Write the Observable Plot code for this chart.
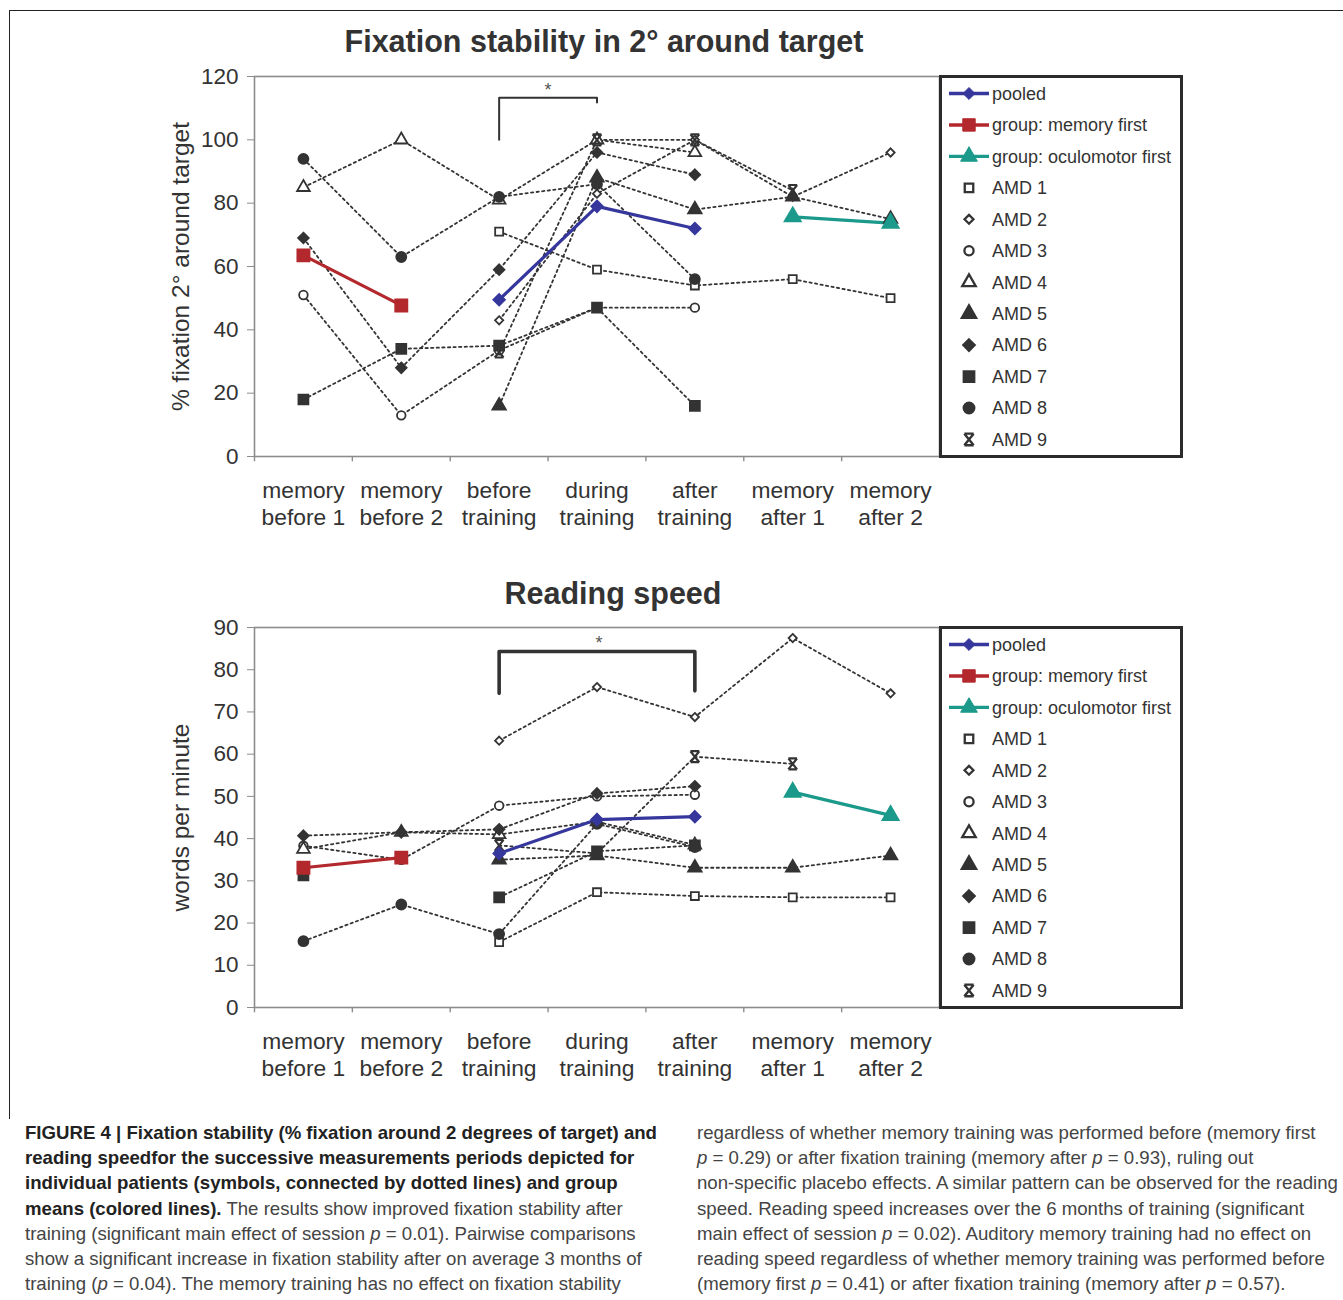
<!DOCTYPE html>
<html><head><meta charset="utf-8">
<script src="https://cdn.jsdelivr.net/npm/d3@7"></script>
<script src="https://cdn.jsdelivr.net/npm/@observablehq/plot@0.6"></script>
<style>
html,body{margin:0;padding:0;background:#fff;}
#page{position:relative;width:1343px;height:1300px;overflow:hidden;font-family:"Liberation Sans",Arial,sans-serif;background:#fff;}
.title{position:absolute;font-weight:bold;font-size:30.5px;line-height:34px;color:#333;white-space:nowrap;transform:translateX(-50%);}
.chart{position:absolute;left:0;}
.legend{position:absolute;box-sizing:border-box;border:3px solid #2b2b2b;background:#fff;}
.caption{position:absolute;font-family:"Liberation Sans",Arial,sans-serif;font-size:17.7px;line-height:25.2px;color:#444;white-space:nowrap;transform-origin:0 0;}
.caption div{white-space:nowrap;}
.caption span.ln{display:inline-block;}
.caption b{color:#222;}
.frameline{position:absolute;left:9px;top:10px;width:1340px;height:1108px;border-top:1.5px solid #222;border-left:1.5px solid #222;}
</style></head><body><div id="page">
<div class="frameline"></div>
<div class="title" id="t1" style="left:604px;top:24px;">Fixation stability in 2° around target</div>
<div class="title" id="t2" style="left:613px;top:576px;">Reading speed</div>
<div class="chart" id="c1" style="top:56px;"></div>
<div class="chart" id="c2" style="top:607px;"></div>
<div class="legend" id="l1" style="left:939px;top:75px;width:244px;height:383px;"></div>
<div class="legend" id="l2" style="left:939px;top:626px;width:244px;height:383px;"></div>
<div class="caption" id="capL" style="left:25px;top:1121px;">
<div><span class="ln"><b>FIGURE 4 | Fixation stability (% fixation around 2 degrees of target) and</b></span></div>
<div><span class="ln"><b>reading speedfor the successive measurements periods depicted for</b></span></div>
<div><span class="ln"><b>individual patients (symbols, connected by dotted lines) and group</b></span></div>
<div><span class="ln"><b>means (colored lines).</b> The results show improved fixation stability after</span></div>
<div><span class="ln">training (significant main effect of session <i>p</i> = 0.01). Pairwise comparisons</span></div>
<div><span class="ln">show a significant increase in fixation stability after on average 3 months of</span></div>
<div><span class="ln">training (<i>p</i> = 0.04). The memory training has no effect on fixation stability</span></div>
</div>
<div class="caption" id="capR" style="left:697px;top:1121px;">
<div><span class="ln">regardless of whether memory training was performed before (memory first</span></div>
<div><span class="ln"><i>p</i> = 0.29) or after fixation training (memory after <i>p</i> = 0.93), ruling out</span></div>
<div><span class="ln">non-specific placebo effects. A similar pattern can be observed for the reading</span></div>
<div><span class="ln">speed. Reading speed increases over the 6 months of training (significant</span></div>
<div><span class="ln">main effect of session <i>p</i> = 0.02). Auditory memory training had no effect on</span></div>
<div><span class="ln">reading speed regardless of whether memory training was performed before</span></div>
<div><span class="ln">(memory first <i>p</i> = 0.41) or after fixation training (memory after <i>p</i> = 0.57).</span></div>
</div>
</div>
<script>
// ---------- DATA ----------
const sessions = ["memory before 1","memory before 2","before training","during training","after training","memory after 1","memory after 2"];
const sessionLabels = ["memory\nbefore 1","memory\nbefore 2","before\ntraining","during\ntraining","after\ntraining","memory\nafter 1","memory\nafter 2"];
const patients = ["AMD 1","AMD 2","AMD 3","AMD 4","AMD 5","AMD 6","AMD 7","AMD 8","AMD 9"];
const groupNames = ["pooled","group: memory first","group: oculomotor first"];

// Fixation stability (% fixation in 2° around target), one value per session (null = not measured)
const fixAMD1 = [null, null, 71, 59, 54, 56, 50];
const fixAMD2 = [null, null, 43, 83, 100, 82, 96];
const fixAMD3 = [51, 13, 33.5, 47, 47, null, null];
const fixAMD4 = [85, 100, 81, 100, 96, null, null];
const fixAMD5 = [null, null, 16, 88, 78, 82, 75];
const fixAMD6 = [69, 28, 59, 96, 89, null, null];
const fixAMD7 = [18, 34, 35, 47, 16, null, null];
const fixAMD8 = [94, 63, 82, 86, 56, null, null];
const fixAMD9 = [null, null, 33, 100, 100, 84, null];
const fixPooled = [null, null, 49.5, 79, 72, null, null];
const fixMemoryFirst = [63.5, 47.7, null, null, null, null, null];
const fixOculomotorFirst = [null, null, null, null, null, 75.7, 73.7];
const fixTicks = [0, 20, 40, 60, 80, 100, 120];
const fixBracket = [["before training", 100], ["before training", 113.3], ["during training", 113.3], ["during training", 111.8]];
const fixStar = ["before training", 115.6];

// Reading speed (words per minute)
const readAMD1 = [null, null, 15.5, 27.3, 26.4, 26.1, 26.1];
const readAMD2 = [null, null, 63.2, 75.9, 68.8, 87.5, 74.4];
const readAMD3 = [38.3, 35, 47.8, 50, 50.4, null, null];
const readAMD4 = [37.5, 41.5, 41, 44, 38.5, null, null];
const readAMD5 = [null, null, 35, 36, 33.1, 33.1, 36];
const readAMD6 = [40.7, 41.5, 42.2, 50.7, 52.4, null, null];
const readAMD7 = [31.3, null, 26.1, 37, 38.4, null, null];
const readAMD8 = [15.7, 24.4, 17.4, 43.5, 38, null, null];
const readAMD9 = [null, null, 38.4, 36.5, 59.4, 57.7, null];
const readPooled = [null, null, 36.5, 44.5, 45.2, null, null];
const readMemoryFirst = [33.1, 35.5, null, null, null, null, null];
const readOculomotorFirst = [null, null, null, null, null, 51, 45.5];
const readTicks = [0, 10, 20, 30, 40, 50, 60, 70, 80, 90];
const readBracket = [["before training", 74.4], ["before training", 84.3], ["after training", 84.3], ["after training", 75]];
const readStar = ["during training", 86.2];

// ---------- STYLES ----------
// "X with caps" marker used for AMD 9
const symbolCappedX = {
  draw(ctx, size) {
    const r = Math.sqrt(size) * 0.62;
    const c = r * 0.8;
    ctx.moveTo(-c, -r); ctx.lineTo(c, r);
    ctx.moveTo(c, -r); ctx.lineTo(-c, r);
    ctx.moveTo(-c, -r); ctx.lineTo(c, -r);
    ctx.moveTo(-c, r); ctx.lineTo(c, r);
  }
};
const patientSymbol = ["square","diamond2","circle","triangle","triangle","diamond2","square","circle", symbolCappedX];
const patientFilled = [false,false,false,false,true,true,true,true,false];
const patientR = [4.5, 3.7, 4.3, 4.7, 5.0, 4.8, 5.6, 5.0, 5.0];
const groupColor = ["#36379c", "#b3282d", "#1b9a8b"];
const groupSymbol = ["diamond2", "square", "triangle"];
const groupR = [5.4, 7.0, 6.2];
const ink = "#333";

const W = 1343, ML = 254, MR = 404, MT = 20, MB = 90, H = 490;
const step = (W - ML - MR) / sessions.length;

function toLong(arrays, names) {
  const out = [];
  arrays.forEach((arr, i) => arr.forEach((v, j) => out.push({name: names[i], session: sessions[j], value: v})));
  return out;
}
function defined(arr) {
  return arr.map((v, j) => ({session: sessions[j], value: v})).filter(d => d.value != null);
}
const isStrokeSymbol = s => typeof s === "object";

function makeChart(cfg) {
  const long = toLong(cfg.patients, patients);
  const groups = [cfg.pooled, cfg.memFirst, cfg.ocuFirst];
  const yMax = cfg.ticks[cfg.ticks.length - 1];
  const marks = [
    Plot.frame({stroke: "#8c8c8c", strokeWidth: 1.6}),
    Plot.ruleX(sessions, {x: d => d, dx: -step / 2, y1: 0, y2: -yMax * 0.014, stroke: "#8c8c8c", strokeWidth: 1.4}),
    Plot.axisY({ticks: cfg.ticks, tickSize: 7, tickPadding: 9, fontSize: 22.5, label: null, stroke: "#8c8c8c", fill: "#333"}),
    Plot.axisX({tickSize: 0, tickPadding: 22, fontSize: 22.8, lineHeight: 1.2, label: null, fill: "#333",
      tickFormat: d => sessionLabels[sessions.indexOf(d)]}),
    Plot.text([cfg.yLabel], {text: d => d, frameAnchor: "left", textAnchor: "middle", rotate: -90, dx: -73, fontSize: 24.5, fill: "#333"}),
    // individual patients: dotted lines
    Plot.line(long, {x: "session", y: "value", z: "name", stroke: ink, strokeWidth: 1.8, strokeDasharray: "2.3,3.3"})
  ];
  groups.forEach((g, i) => {
    marks.push(Plot.line(defined(g), {x: "session", y: "value", stroke: groupColor[i], strokeWidth: 3.2}));
  });
  patients.forEach((p, i) => {
    const d = defined(cfg.patients[i]);
    marks.push(Plot.dot(d, {x: "session", y: "value", symbol: patientSymbol[i], r: patientR[i],
      fill: patientFilled[i] ? ink : (isStrokeSymbol(patientSymbol[i]) ? "none" : "white"), stroke: ink,
      strokeWidth: isStrokeSymbol(patientSymbol[i]) ? 2.2 : 1.8}));
  });
  groups.forEach((g, i) => {
    marks.push(Plot.dot(defined(g), {x: "session", y: "value", symbol: groupSymbol[i], r: groupR[i], fill: groupColor[i], stroke: groupColor[i]}));
  });
  marks.push(Plot.line(cfg.bracket, {x: d => d[0], y: d => d[1], stroke: "#333", strokeWidth: cfg.bracketWidth}));
  marks.push(Plot.text([cfg.star], {x: d => d[0], y: d => d[1], text: () => "*", dx: cfg.starDx, fontSize: 18, fill: "#555"}));
  return Plot.plot({
    width: W, height: H, marginLeft: ML, marginRight: MR, marginTop: MT, marginBottom: MB,
    style: {fontFamily: "'Liberation Sans', Arial, sans-serif", background: "transparent", color: "#333", overflow: "visible"},
    x: {type: "point", domain: sessions, padding: 0.5, round: false},
    y: {domain: [cfg.ticks[0], yMax]},
    marks
  });
}

document.getElementById("c1").appendChild(makeChart({
  patients: [fixAMD1, fixAMD2, fixAMD3, fixAMD4, fixAMD5, fixAMD6, fixAMD7, fixAMD8, fixAMD9],
  pooled: fixPooled, memFirst: fixMemoryFirst, ocuFirst: fixOculomotorFirst,
  ticks: fixTicks, yLabel: "% fixation 2° around target",
  bracket: fixBracket, bracketWidth: 2, star: fixStar, starDx: step / 2
}));
document.getElementById("c2").appendChild(makeChart({
  patients: [readAMD1, readAMD2, readAMD3, readAMD4, readAMD5, readAMD6, readAMD7, readAMD8, readAMD9],
  pooled: readPooled, memFirst: readMemoryFirst, ocuFirst: readOculomotorFirst,
  ticks: readTicks, yLabel: "words per minute",
  bracket: readBracket, bracketWidth: 3.6, star: readStar, starDx: 2
}));

// ---------- LEGENDS ----------
const d3sym = {square: d3.symbolSquare, diamond2: d3.symbolDiamond2, circle: d3.symbolCircle, triangle: d3.symbolTriangle, diamond: d3.symbolDiamond};
const toD3 = s => typeof s === "object" ? s : d3sym[s];
function makeLegend(el) {
  const w = 238, h = 377, rowH = 31.45, y0 = 15.5;
  const svg = d3.select(el).append("svg").attr("width", w).attr("height", h).style("display", "block");
  const rows = [];
  groupNames.forEach((g, i) => rows.push({label: g, kind: "group", i}));
  patients.forEach((p, i) => rows.push({label: p, kind: "patient", i}));
  rows.forEach((r, k) => {
    const y = y0 + k * rowH;
    const gg = svg.append("g").attr("transform", `translate(0,${y})`);
    if (r.kind === "group") {
      gg.append("line").attr("x1", 7).attr("x2", 47).attr("y1", 0).attr("y2", 0).attr("stroke", groupColor[r.i]).attr("stroke-width", 3.4);
      const rr = groupR[r.i];
      gg.append("path").attr("d", d3.symbol(toD3(groupSymbol[r.i]), Math.PI * rr * rr)()).attr("transform", "translate(27,0)")
        .attr("fill", groupColor[r.i]).attr("stroke", groupColor[r.i]);
    } else {
      const sym = patientSymbol[r.i];
      const rr = patientR[r.i] + 0.3;
      gg.append("path").attr("d", d3.symbol(toD3(sym), Math.PI * rr * rr)()).attr("transform", "translate(27,0)")
        .attr("fill", patientFilled[r.i] ? ink : (isStrokeSymbol(sym) ? "none" : "white")).attr("stroke", ink)
        .attr("stroke-width", isStrokeSymbol(sym) ? 2.4 : 2.3);
    }
    gg.append("text").attr("x", 50).attr("y", 0).attr("dy", "0.35em")
      .attr("font-size", 18).attr("font-family", "'Liberation Sans', Arial, sans-serif").attr("fill", "#333").text(r.label);
  });
}
makeLegend(document.getElementById("l1"));
makeLegend(document.getElementById("l2"));

// ---------- CAPTION: condense each column to the reference's column width ----------
function fitColumn(id, targetWidth) {
  const el = document.getElementById(id);
  const widths = Array.from(el.querySelectorAll("span.ln")).map(s => s.getBoundingClientRect().width);
  const s = targetWidth / Math.max(...widths);
  el.style.transform = `scaleX(${s})`;
}
fitColumn("capL", 632);
fitColumn("capR", 641);
</script>
</body></html>
